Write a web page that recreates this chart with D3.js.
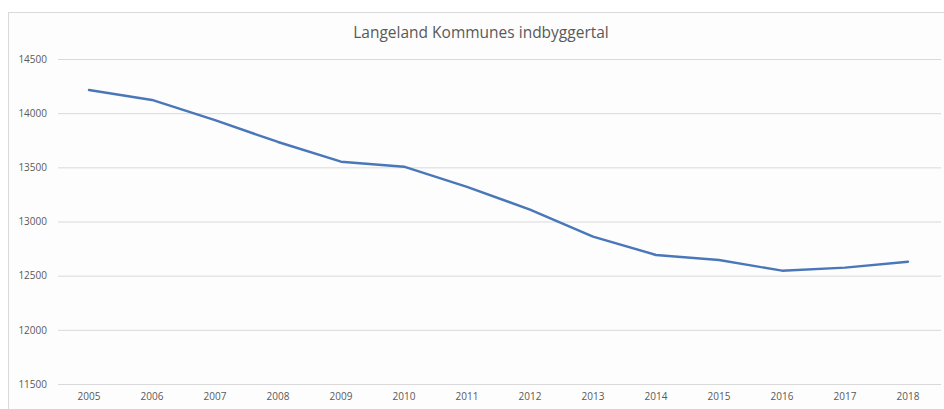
<!DOCTYPE html>
<html><head><meta charset="utf-8">
<script src="https://cdn.jsdelivr.net/npm/d3@7"></script>
<style>html,body{margin:0;padding:0;background:#fff;}svg{display:block;}</style>
</head><body>
<svg id="c" width="944" height="409"></svg>
<script>
const years = ["2005","2006","2007","2008","2009","2010","2011","2012","2013","2014","2015","2016","2017","2018"];
const population = [14214,14122,13935,13734,13552,13506,13320,13110,12860,12691,12645,12546,12574,12629];
const yTicks = [11500,12000,12500,13000,13500,14000,14500];
const title = "Langeland Kommunes indbyggertal";

const svg = d3.select("#c");
const font = "'Open Sans', 'Liberation Sans', sans-serif";
const textColor = "#595959";

// chart area frame
svg.append("rect").attr("x",8.5).attr("y",12.5).attr("width",960).attr("height",420)
  .attr("fill","#fdfdfd").attr("stroke","#d9d9d9").attr("stroke-width",1);

const x = d3.scaleBand().domain(years).range([57.5, 939.5]).padding(0);
const y = d3.scaleLinear().domain([11500,14500]).range([384,59]);

// gridlines
const yAxis = d3.axisLeft(y).tickValues(yTicks).tickSize(-(941-58)).tickPadding(11).tickFormat(d3.format("d"));
const gy = svg.append("g").attr("transform","translate(58,0)").call(yAxis);
gy.select(".domain").remove();
gy.selectAll(".tick line").attr("stroke","#d9d9d9").attr("stroke-width",1);
gy.selectAll(".tick text").attr("fill",textColor).style("font-family",font).style("font-size","10px");

// x axis labels
const xAxis = d3.axisBottom(x).tickSize(0).tickPadding(9);
const gx = svg.append("g").attr("transform","translate(0,384)").call(xAxis);
gx.select(".domain").remove();
gx.selectAll(".tick text").attr("fill",textColor).style("font-family",font).style("font-size","10px");

// line
const line = d3.line().x((d,i)=>x(years[i]) + x.bandwidth()/2).y(d=>y(d));
svg.append("path").datum(population).attr("d",line)
  .attr("fill","none").attr("stroke","#4a77b9").attr("stroke-width",2.4)
  .attr("stroke-linejoin","round").attr("stroke-linecap","round");

// title
svg.append("text").attr("x",481).attr("y",38).attr("text-anchor","middle")
  .attr("fill",textColor).style("font-family",font).style("font-size","15.5px").text(title);
</script>
</body></html>
